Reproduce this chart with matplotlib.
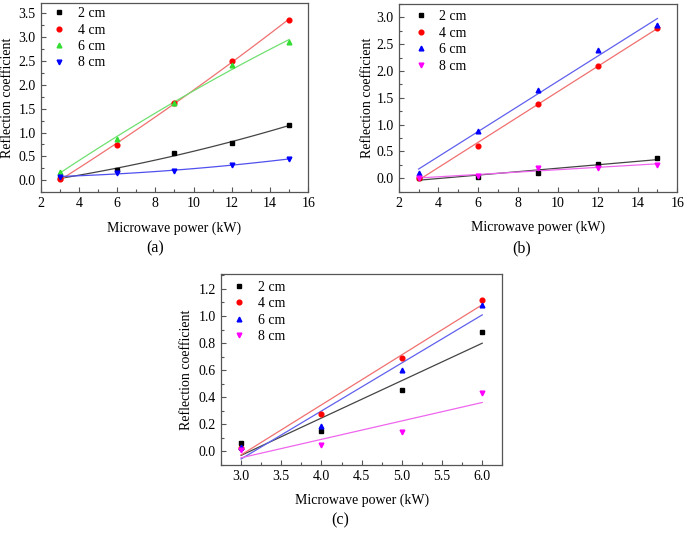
import numpy as np
import matplotlib
matplotlib.use("Agg")
import matplotlib.pyplot as plt
from matplotlib.ticker import MultipleLocator, FormatStrFormatter

plt.rcParams['font.family'] = ['Liberation Serif', 'DejaVu Serif']
plt.rcParams['font.size'] = 10

labels = ["2 cm", "4 cm", "6 cm", "8 cm"]
markers = ["s", "o", "^", "v"]

# Panel (a)
xa = [3, 6, 9, 12, 15]
a_2 = [0.05, 0.21, 0.56, 0.79, 1.15]
a_4 = [0.02, 0.74, 1.62, 2.50, 3.37]
a_6 = [0.18, 0.87, 1.61, 2.42, 2.91]
a_8 = [0.07, 0.15, 0.20, 0.31, 0.45]
colors_a = ["#000000", "#ff0000", "#33dd33", "#0000ff"]
lines_a = ["#444444", "#f07070", "#70e070", "#5050ee"]

# Panel (b)
xb = [3, 6, 9, 12, 15]
b_2 = [0.01, 0.03, 0.10, 0.27, 0.37]
b_4 = [0.01, 0.61, 1.38, 2.10, 2.80]
b_6 = [0.10, 0.88, 1.65, 2.40, 2.85]
b_8 = [0.00, 0.04, 0.20, 0.20, 0.25]

# Panel (c)
xc = [3, 4, 5, 6]
c_2 = [0.06, 0.15, 0.45, 0.88]
c_4 = [0.025, 0.28, 0.69, 1.12]
c_6 = [0.035, 0.19, 0.60, 1.08]
c_8 = [0.01, 0.045, 0.145, 0.43]
colors_bc = ["#000000", "#ff0000", "#0000ff", "#ff00ff"]
lines_bc = ["#444444", "#f07070", "#6060ee", "#ee66ee"]

fig = plt.figure(figsize=(6.85, 5.35), dpi=100)

def panel(rect, x, series, cols, lcols, deg, xlim, ylim, xmaj, ymaj,
          letter, letter_xy, ylab_x, leg_anchor):
    ax = fig.add_axes(rect)
    xf = np.linspace(min(x), max(x), 100)
    for ys, lc in zip(series, lcols):
        p = np.polyfit(x, ys, deg)
        ax.plot(xf, np.polyval(p, xf), color=lc, lw=0.9, zorder=2)
    for ys, c, m, lab in zip(series, cols, markers, labels):
        ax.plot(x, ys, ls='none', marker=m, color=c, ms=3.4, label=lab, zorder=3)
    ax.set_xlim(*xlim)
    ax.set_ylim(*ylim)
    ax.xaxis.set_major_locator(MultipleLocator(xmaj))
    ax.xaxis.set_minor_locator(MultipleLocator(xmaj / 2))
    ax.yaxis.set_major_locator(MultipleLocator(ymaj))
    ax.yaxis.set_minor_locator(MultipleLocator(ymaj / 2))
    ax.tick_params(which='both', direction='in', top=False, right=False, labelsize=10)
    ax.tick_params(which='major', length=3.5, width=0.8, color='#555555')
    ax.tick_params(which='minor', length=2, width=0.8, color='#555555')
    for s in ax.spines.values():
        s.set_color('#555555')
        s.set_linewidth(0.9)
    ax.set_xlabel("Microwave power (kW)", fontsize=10, labelpad=8)
    ax.set_ylabel("Reflection coefficient", fontsize=10)
    ax.yaxis.set_label_coords(ylab_x, 0.5)
    ax.legend(loc='upper left', frameon=False, fontsize=10, handletextpad=0.72,
              handlelength=1.2, labelspacing=0.25, borderaxespad=0.0,
              bbox_to_anchor=leg_anchor)
    fig.text(letter_xy[0], letter_xy[1], letter, fontsize=11.5, ha='center', va='center')
    return ax

ax_a = panel([0.0594, 0.641, 0.3906, 0.3534], xa, [a_2, a_4, a_6, a_8], colors_a, lines_a, 2,
             (2, 16), (-0.25, 3.72), 2, 0.5, "(a)", (155 / 685, 1 - 248 / 535),
             -0.10, (0.018, 1.008))
ax_b = panel([0.582, 0.6417, 0.4068, 0.3508], xb, [b_2, b_4, b_6, b_8], colors_bc, lines_bc, 1,
             (2, 16), (-0.25, 3.25), 2, 0.5, "(b)", (522 / 685, 1 - 248 / 535),
             -0.089, (0.030, 0.997))
ax_c = panel([0.3226, 0.1308, 0.4107, 0.3571], xc, [c_2, c_4, c_6, c_8], colors_bc, lines_bc, 1,
             (2.75, 6.25), (-0.1, 1.31), 0.5, 0.2, "(c)", (340 / 685, 1 - 520 / 535),
             -0.10, (0.0156, 0.994))
ax_c.xaxis.set_major_formatter(FormatStrFormatter('%.1f'))
ax_c.yaxis.set_major_formatter(FormatStrFormatter('%.1f'))
ax_b.yaxis.set_major_formatter(FormatStrFormatter('%.1f'))

fig.savefig("out.png", dpi=100)
